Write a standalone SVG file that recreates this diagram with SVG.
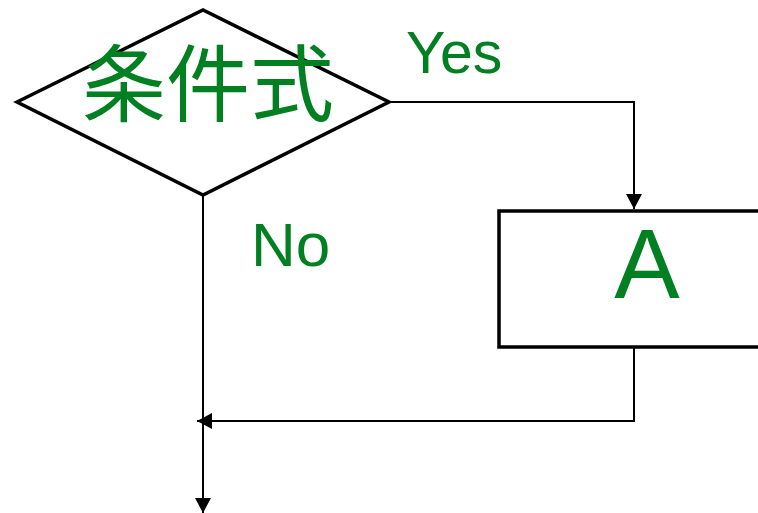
<svg xmlns="http://www.w3.org/2000/svg" width="758" height="513" viewBox="0 0 758 513">
<style>
.shape{fill:#fff;stroke:#000;stroke-width:3.5}
.conn{fill:none;stroke:#000;stroke-width:2}
.lbl{fill:#008020;font-family:"Liberation Sans","Noto Sans CJK JP",sans-serif}
</style>
<defs>
<marker id="ah" viewBox="0 0 15 16" refX="15" refY="8" markerWidth="15" markerHeight="16" markerUnits="userSpaceOnUse" orient="auto">
<path d="M0,0 L15,8 L0,16 Z" fill="#000"/>
</marker>
</defs>
<rect width="758" height="513" fill="#fff"/>
<g id="connectors">
<path class="conn" d="M389,102 H634 V209" marker-end="url(#ah)"/>
<path class="conn" d="M634,347 V421 H197" marker-end="url(#ah)"/>
<path class="conn" d="M203,195 V513" marker-end="url(#ah)"/>
</g>
<g id="decision">
<polygon class="shape" points="17,102 203,10 389,102 203,195"/>
<text class="lbl" x="208" y="115" font-size="84" text-anchor="middle">条件式</text>
</g>
<g id="processA">
<rect class="shape" x="499" y="211" width="270" height="136"/>
<text class="lbl" x="647" y="298" font-size="98" text-anchor="middle">A</text>
</g>
<g id="labels">
<text class="lbl" x="406" y="73" font-size="59">Yes</text>
<text class="lbl" x="251" y="266" font-size="62">No</text>
</g>
</svg>
